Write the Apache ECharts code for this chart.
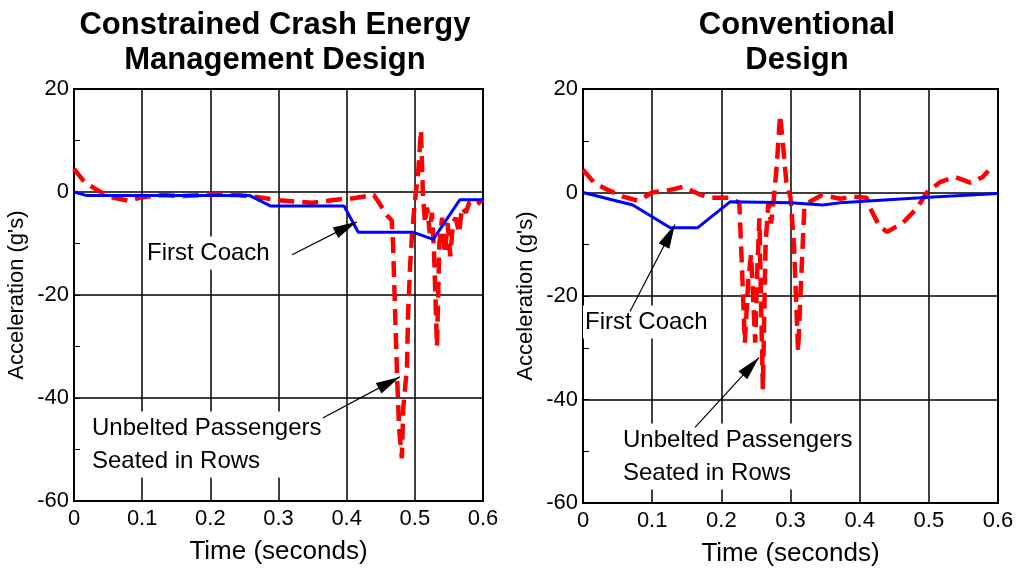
<!DOCTYPE html>
<html>
<head>
<meta charset="utf-8">
<script src="https://cdn.jsdelivr.net/npm/echarts@6/dist/echarts.min.js"></script>
<style>html,body{margin:0;padding:0;background:#fff}#c{width:1024px;height:573px}</style>
</head>
<body>
<div id="c"></div>
<script>
// ---- data ----
const xTickLabels = ['0', '0.1', '0.2', '0.3', '0.4', '0.5', '0.6'];
const yTickLabels = ['-60', '-40', '-20', '0', '20'];

// Constrained Crash Energy Management design
const cemFirstCoach = [[0,0],[0.019,-0.7],[0.258,-0.7],[0.288,-2.7],[0.396,-2.7],[0.417,-7.8],[0.497,-7.8],[0.527,-9.2],[0.566,-1.5],[0.6,-1.5]];
const cemUnbelted = [[0,4.5],[0.015,2],[0.035,0.3],[0.055,-1],[0.08,-1.7],[0.1,-1],[0.13,-0.6],[0.16,-0.8],[0.2,-0.5],[0.24,-0.6],[0.27,-1],[0.3,-1.6],[0.35,-2.1],[0.39,-1.4],[0.41,-1.2],[0.44,-0.6],[0.447,-2],[0.459,-4.5],[0.466,-5.5],[0.468,-10],[0.471,-23],[0.474,-36],[0.477,-46],[0.481,-51.7],[0.483,-42],[0.4885,-34],[0.49,-24],[0.493,-14.6],[0.496,-8],[0.5,-2],[0.505,4],[0.509,12],[0.512,-1],[0.515,-6],[0.518,-3],[0.522,-8],[0.525,-4],[0.528,-11],[0.5325,-30],[0.536,-10],[0.54,-5],[0.544,-12],[0.548,-6],[0.552,-12.5],[0.556,-6],[0.56,-5],[0.565,-8],[0.569,-3],[0.575,-4],[0.58,-2],[0.59,-2.5],[0.6,-1.5]];

// Conventional design
const convFirstCoach = [[0,0],[0.072,-2.4],[0.126,-6.8],[0.166,-6.8],[0.2125,-1.8],[0.3,-2],[0.347,-2.4],[0.372,-2],[0.5,-0.9],[0.6,-0.2]];
const convUnbelted = [[0,4.4],[0.016,1.9],[0.036,0.5],[0.058,-0.8],[0.08,-1.6],[0.1,0],[0.126,0.5],[0.145,1.1],[0.169,-0.4],[0.184,-1],[0.2125,-1],[0.226,-2],[0.23,-15],[0.234,-29],[0.239,-17],[0.243,-12],[0.249,-29],[0.252,-15],[0.255,-5],[0.26,-38],[0.264,-10],[0.268,-2],[0.272,-6],[0.276,-1],[0.28,5],[0.285,15],[0.29,8],[0.294,2],[0.3,-1],[0.305,-10],[0.311,-30.7],[0.316,-15],[0.32,-3],[0.328,-1.8],[0.3455,-0.5],[0.372,-1.2],[0.39,-0.8],[0.41,-1],[0.415,-3],[0.429,-6.6],[0.44,-7.6],[0.463,-5.8],[0.483,-3],[0.497,0],[0.516,2],[0.538,3],[0.56,1.9],[0.578,3],[0.586,4.2]];

// annotation arrows: [tail, head] in data coordinates
const cemCoachArrow = [[0.32,-12.2],[0.415,-5.8]];
const cemUnbeltedArrow = [[0.365,-43.9],[0.478,-35.9]];
const convCoachArrow = [[0.068,-23],[0.133,-6.2]];
const convUnbeltedArrow = [[0.162,-45.4],[0.2545,-31.9]];

// ---- chart ----
const FONT = 'Liberation Sans, Arial, Helvetica, sans-serif';
const chart = echarts.init(document.getElementById('c'), null, {renderer: 'canvas'});

function xAxis(gi) {
  return {
    type: 'value', gridIndex: gi, min: 0, max: 0.6, interval: 0.1,
    name: 'Time (seconds)', nameLocation: 'middle', nameGap: 38,
    nameTextStyle: {fontFamily: FONT, fontSize: 26, color: '#000'},
    axisLine: {show: true, onZero: false, lineStyle: {color: '#000', width: 2}},
    axisTick: {show: false},
    axisLabel: {fontFamily: FONT, fontSize: 22, color: '#000', margin: 7,
      formatter: v => xTickLabels[Math.round(v * 10)]},
    splitLine: {show: true, lineStyle: {color: '#000', width: 1.5}}
  };
}
function yAxis(gi) {
  return {
    type: 'value', gridIndex: gi, min: -60, max: 20, interval: 20,
    name: "Acceleration (g's)", nameLocation: 'middle', nameGap: 46,
    nameTextStyle: {fontFamily: FONT, fontSize: 22, color: '#000', padding: [0, 0, 0, 0]},
    axisLine: {show: true, onZero: false, lineStyle: {color: '#000', width: 2}},
    axisTick: {show: true, inside: true, length: 6, lineStyle: {color: '#000', width: 1}},
    minorTick: {show: true, splitNumber: 2, length: 6, lineStyle: {color: '#000', width: 1}},
    axisLabel: {fontFamily: FONT, fontSize: 22, color: '#000', margin: 5,
      formatter: v => yTickLabels[Math.round((v + 60) / 20)]},
    splitLine: {show: true, lineStyle: {color: '#000', width: 1.5}}
  };
}
function arrow(a) {
  return [{coord: a[0], symbol: 'none'}, {coord: a[1], symbol: 'triangle'}];
}
function markArrows(list) {
  return {
    silent: true, symbol: ['none', 'triangle'], symbolSize: [12, 24],
    symbolOffset: [[0, 0], [0, 12]],
    label: {show: false}, emphasis: {disabled: true},
    lineStyle: {color: '#000', width: 1.2, type: 'solid'},
    data: list.map(arrow), animation: false, z: 20
  };
}
function coachSeries(gi, data, arrows) {
  return {type: 'line', xAxisIndex: gi, yAxisIndex: gi, data: data, symbol: 'none',
    lineStyle: {color: '#0000ff', width: 3}, z: 4, markLine: markArrows(arrows)};
}
function unbeltedSeries(gi, data) {
  return {type: 'line', xAxisIndex: gi, yAxisIndex: gi, data: data, symbol: 'none',
    lineStyle: {color: '#ff0000', width: 4.5, type: [16, 8], cap: 'butt'}, z: 3};
}
function label(x, y, text) {
  return {type: 'text', z: 10, style: {x: x, y: y, text: text, fontFamily: FONT, fontSize: 24,
    fill: '#000', lineHeight: 33, align: 'left', verticalAlign: 'middle', backgroundColor: '#fff', padding: [0, 2]}};
}
function title(x, y, text) {
  return {type: 'text', z: 10, style: {x: x, y: y, text: text, fontFamily: FONT, fontSize: 31, fontWeight: 'bold',
    fill: '#000', lineHeight: 35, align: 'center', verticalAlign: 'middle'}};
}

chart.setOption({
  animation: false,
  backgroundColor: '#fff',
  grid: [
    {left: 74, top: 89, width: 409, height: 412, show: true, borderColor: '#000', borderWidth: 2, backgroundColor: 'transparent'},
    {left: 583, top: 89, width: 415, height: 414, show: true, borderColor: '#000', borderWidth: 2, backgroundColor: 'transparent'}
  ],
  xAxis: [xAxis(0), xAxis(1)],
  yAxis: [yAxis(0), yAxis(1)],
  series: [
    unbeltedSeries(0, cemUnbelted),
    coachSeries(0, cemFirstCoach, [cemCoachArrow, cemUnbeltedArrow]),
    unbeltedSeries(1, convUnbelted),
    coachSeries(1, convFirstCoach, [convCoachArrow, convUnbeltedArrow])
  ],
  graphic: [
    title(275, 43, 'Constrained Crash Energy\nManagement Design'),
    title(797, 43, 'Conventional\nDesign'),
    label(145, 253, 'First Coach'),
    label(90, 444.5, 'Unbelted Passengers\nSeated in Rows'),
    label(583, 322, 'First Coach'),
    label(621, 456.5, 'Unbelted Passengers\nSeated in Rows')
  ]
});
</script>
</body>
</html>
